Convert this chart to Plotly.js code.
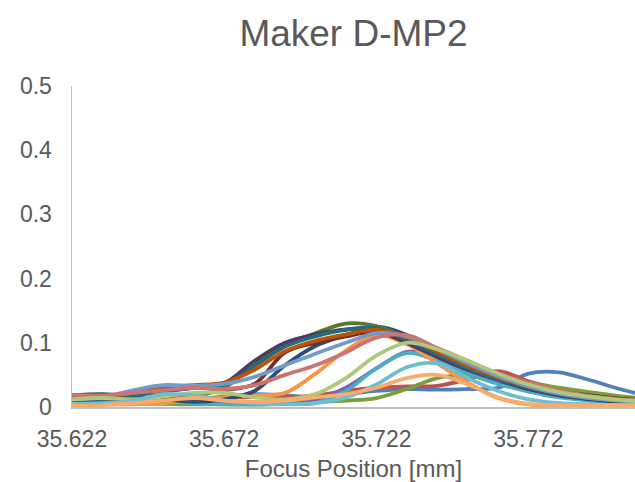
<!DOCTYPE html>
<html>
<head>
<meta charset="utf-8">
<script src="https://cdn.plot.ly/plotly-3.0.1.min.js"></script>
<style>
html,body{margin:0;padding:0;background:#fff;}
#chart{width:635px;height:482px;}
</style>
</head>
<body>
<div id="chart"></div>
<script>
// Focus positions (mm)
const focusPos = [35.622, 35.632, 35.642, 35.652, 35.662, 35.672, 35.682, 35.692, 35.702, 35.712,
                  35.722, 35.732, 35.742, 35.752, 35.762, 35.772, 35.782, 35.792, 35.802, 35.812];
const xTickVals = [35.622, 35.672, 35.722, 35.772];
const xTickText = ["35.622", "35.672", "35.722", "35.772"];
const yTickVals = [0, 0.1, 0.2, 0.3, 0.4, 0.5];
const yTickText = ["0", "0.1", "0.2", "0.3", "0.4", "0.5"];

// Series values
const s01 = [0.010,0.012,0.012,0.010,0.012,0.016,0.020,0.018,0.015,0.020,0.025,0.028,0.027,0.028,0.030,0.052,0.054,0.042,0.028,0.016];
const s02 = [0.008,0.006,0.005,0.006,0.010,0.014,0.016,0.015,0.018,0.025,0.030,0.032,0.033,0.043,0.056,0.040,0.028,0.020,0.013,0.009];
const s03 = [0.007,0.006,0.006,0.005,0.004,0.004,0.004,0.005,0.008,0.010,0.014,0.028,0.045,0.050,0.046,0.038,0.030,0.023,0.017,0.012];
const s04 = [0.008,0.008,0.010,0.012,0.010,0.006,0.004,0.006,0.012,0.030,0.060,0.086,0.080,0.058,0.040,0.028,0.019,0.013,0.009,0.007];
const s05 = [0.003,0.004,0.006,0.008,0.006,0.004,0.004,0.005,0.006,0.025,0.060,0.084,0.072,0.052,0.036,0.024,0.015,0.010,0.007,0.005];
const s06 = [0.005,0.004,0.004,0.006,0.010,0.015,0.018,0.022,0.052,0.088,0.112,0.098,0.068,0.038,0.014,0.004,0.002,0.002,0.002,0.002];
const s07 = [0.018,0.020,0.017,0.012,0.008,0.012,0.025,0.065,0.095,0.112,0.125,0.112,0.085,0.062,0.043,0.028,0.018,0.012,0.008,0.006];
const s08 = [0.012,0.010,0.012,0.015,0.020,0.026,0.036,0.085,0.100,0.110,0.117,0.100,0.080,0.060,0.045,0.033,0.025,0.018,0.013,0.010];
const s09 = [0.005,0.006,0.008,0.010,0.016,0.030,0.066,0.097,0.115,0.130,0.126,0.108,0.088,0.066,0.048,0.034,0.024,0.017,0.012,0.010];
const s10 = [0.014,0.016,0.020,0.026,0.030,0.037,0.072,0.100,0.113,0.121,0.122,0.100,0.078,0.058,0.042,0.028,0.019,0.013,0.010,0.008];
const s11 = [0.010,0.012,0.018,0.024,0.030,0.035,0.064,0.094,0.110,0.120,0.123,0.104,0.082,0.060,0.043,0.030,0.020,0.014,0.010,0.008];
const s12 = [0.015,0.016,0.022,0.030,0.034,0.038,0.058,0.087,0.103,0.113,0.120,0.108,0.086,0.064,0.046,0.032,0.022,0.015,0.011,0.009];
const s13 = [0.012,0.015,0.026,0.034,0.033,0.036,0.047,0.065,0.083,0.100,0.115,0.110,0.090,0.068,0.048,0.032,0.021,0.014,0.010,0.008];
const s14 = [0.019,0.018,0.022,0.026,0.030,0.028,0.034,0.050,0.065,0.085,0.108,0.112,0.092,0.072,0.052,0.038,0.026,0.017,0.012,0.009];
const s15 = [0.012,0.014,0.012,0.016,0.022,0.022,0.015,0.012,0.020,0.045,0.080,0.100,0.090,0.072,0.052,0.035,0.023,0.016,0.011,0.009];
const s16 = [0.005,0.006,0.010,0.020,0.018,0.010,0.006,0.004,0.006,0.015,0.035,0.062,0.068,0.045,0.025,0.012,0.006,0.004,0.003,0.003];
const s17 = [0.002,0.003,0.006,0.010,0.014,0.010,0.008,0.010,0.015,0.020,0.030,0.045,0.050,0.035,0.015,0.005,0.003,0.003,0.003,0.003];

const seriesList = [s01,s02,s03,s04,s05,s06,s07,s08,s09,s10,s11,s12,s13,s14,s15,s16,s17];
const seriesColors = ["#4F81BD","#C0504D","#77A03C","#8064A2","#4BACC6","#F79646",
                      "#2C4D75","#772C2A","#5F7530","#4D3B62","#276A7C","#B65708",
                      "#729ACA","#CD7371","#AFC97A","#6FBDD1","#F9AB6B"];

const traces = seriesList.map((ys, i) => ({
  x: focusPos, y: ys, type: "scatter", mode: "lines",
  line: {color: seriesColors[i], width: 3.8, shape: "spline", smoothing: 1},
  hoverinfo: "skip", showlegend: false
}));

const fontFam = "Liberation Sans, Arial, sans-serif";
const layout = {
  width: 635, height: 482,
  margin: {l: 72, r: 0, t: 86, b: 75, pad: 0},
  paper_bgcolor: "#fff", plot_bgcolor: "#fff",
  font: {family: fontFam, color: "#595959"},
  title: {text: "Maker D-MP2", font: {size: 37, color: "#595959", family: fontFam},
          xref: "paper", x: 0.5, xanchor: "center", yref: "container", y: 0.931, yanchor: "middle"},
  xaxis: {
    range: [35.622, 35.807], tickvals: xTickVals, ticktext: xTickText,
    showgrid: false, zeroline: false, showline: true, linecolor: "#bfbfbf", linewidth: 2,
    ticks: "", ticklabelstandoff: 10, tickfont: {size: 23, color: "#595959"},
    title: {text: "Focus Position [mm]", font: {size: 24, color: "#595959"}, standoff: 10},
    fixedrange: true
  },
  yaxis: {
    range: [0, 0.5], tickvals: yTickVals, ticktext: yTickText,
    showgrid: false, zeroline: false, showline: true, linecolor: "#bfbfbf", linewidth: 1.5,
    ticks: "", ticklabelstandoff: 14, tickfont: {size: 23, color: "#595959"},
    fixedrange: true
  }
};

Plotly.newPlot("chart", traces, layout, {staticPlot: true, displayModeBar: false});
</script>
</body>
</html>
